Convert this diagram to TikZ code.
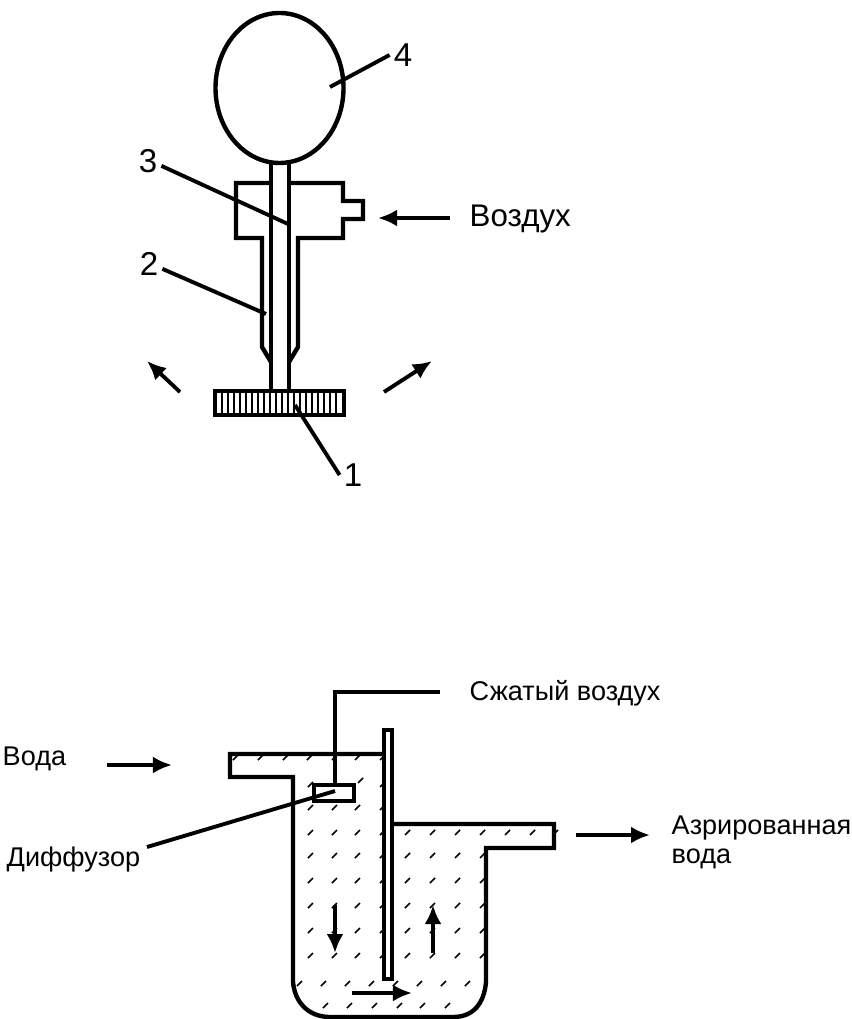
\documentclass[tikz,border=0pt]{standalone}
\usepackage{fontspec}
\setmainfont{Liberation Sans}
\usetikzlibrary{arrows.meta}
\tikzset{>={Latex[length=0.19cm,width=0.17cm]}}
\tikzset{wall/.style={line width=1.25pt,line join=miter},
  leader/.style={line width=1.1pt},
  flow/.style={line width=1.1pt,->},
  hatchmark/.style={line width=0.45pt},
  bigtext/.style={font=\fontsize{8.9}{10}\selectfont,inner sep=0pt,anchor=west},
  smalltext/.style={font=\fontsize{7.7}{10}\selectfont,inner sep=0pt,anchor=west},
  numtext/.style={font=\fontsize{9.4}{10}\selectfont,inner sep=1pt}}

\begin{document}
\begin{tikzpicture}[x=0.01cm,y=-0.01cm]
\useasboundingbox (0,0) rectangle (851,1019);
% aerator
\draw[wall] (279.5,88) ellipse [x radius=64, y radius=75];
\draw[wall] (271,163) -- (271,390);
\draw[wall] (289,163) -- (289,390);
\draw[wall] (271,183) -- (236,183) -- (236,238) -- (262,238) -- (262,347) -- (271,362);
\draw[wall] (289,183) -- (343,183) -- (343,201) -- (363,201) -- (363,219) -- (343,219) -- (343,238) -- (298,238) -- (298,347) -- (289,362);
\draw[line width=1.4pt] (215,391) rectangle (344,415);
\foreach \x in {222,228,...,336}
  \draw[line width=0.6pt] (\x,392) -- (\x,414);
\node[numtext] (n1) at (353,475) {1};
\node[numtext] (n2) at (149,264) {2};
\node[numtext] (n3) at (148,161) {3};
\node[numtext] (n4) at (403,55) {4};
\coordinate (plate) at (295,405);
\coordinate (outer) at (266,314);
\coordinate (inner) at (288,224);
\coordinate (ball) at (330,87);
\draw[leader] (n1.west) -- (plate);
\draw[leader] (n2.-20) -- (outer);
\draw[leader] (n3.-20) -- (inner);
\draw[leader] (n4.west) -- (ball);
\node[bigtext] (air) at (469,219) {Воздух};
\coordinate (airstart) at (450,218);
\coordinate (airend) at (378,218);
\draw[flow] (airstart) -- (airend);
\coordinate (la) at (180,392);
\coordinate (lb) at (147,361);
\coordinate (ra) at (384,392);
\coordinate (rb) at (432,361);
\draw[flow] (la) -- (lb);
\draw[flow] (ra) -- (rb);
% tank
\draw[wall] (384,754) -- (230,754) -- (230,777) -- (293,777) -- (293,982) .. controls (295,1004) and (310,1017) .. (330,1017) -- (453,1017) .. controls (473,1017) and (484,1004) .. (486,982) -- (486,848) -- (554,848) -- (554,824) -- (392,824);
\draw[wall] (384,730) rectangle (392,979);
\node[smalltext] (pressed) at (469,693) {Сжатый воздух};
\node[smalltext] (water) at (2,759) {Вода};
\node[smalltext] (diff) at (6,859) {Диффузор};
\node[smalltext] (aer1) at (671,828) {Азрированная};
\node[smalltext] (aer2) at (671,859) {вода};
\draw[wall] (314,785) rectangle (354,801);
\coordinate (pipeend) at (440,692);
\coordinate (pipecorner) at (335,692);
\coordinate (pipetank) at (335,785);
\draw[wall] (pipeend) -- (pipecorner) -- (pipetank);
\coordinate (diffleft) at (147,847);
\coordinate (diffmid) at (335,791);
\draw[leader] (diffleft) -- (diffmid);
% water marks
\foreach \x/\y in {233/760,258/760,283/760,307/760,332/760,355/760,380/760,
    308/787,358/783,380/787,
    308/810,332/810,355/810,380/810}
  \draw[hatchmark] (\x,\y) -- ++(5,-5);
\foreach \y in {835,858,883,908,933,958}
  \foreach \x in {308,332,355,380,405,430,455,480}
    \draw[hatchmark] (\x,\y) -- ++(5,-5);
\foreach \x in {505,530,553}
  \draw[hatchmark] (\x,835) -- ++(5,-5);
\foreach \x in {297,321,345,369,393,417,441,465}
  \draw[hatchmark] (\x,986) -- ++(5,-5);
\foreach \x in {323,347,372,397,420,445}
  \draw[hatchmark] (\x,1008) -- ++(5,-5);
\coordinate (wa) at (107,765);
\coordinate (wb) at (172,765);
\coordinate (oa) at (576,835);
\coordinate (ob) at (650,835);
\coordinate (da) at (335,905);
\coordinate (db) at (335,953);
\coordinate (ua) at (433,953);
\coordinate (ub) at (433,905);
\coordinate (ba) at (352,993);
\coordinate (bb) at (412,993);
\draw[flow] (wa) -- (wb);
\draw[flow] (oa) -- (ob);
\draw[flow] (da) -- (db);
\draw[flow] (ua) -- (ub);
\draw[flow] (ba) -- (bb);
\end{tikzpicture}
\end{document}
